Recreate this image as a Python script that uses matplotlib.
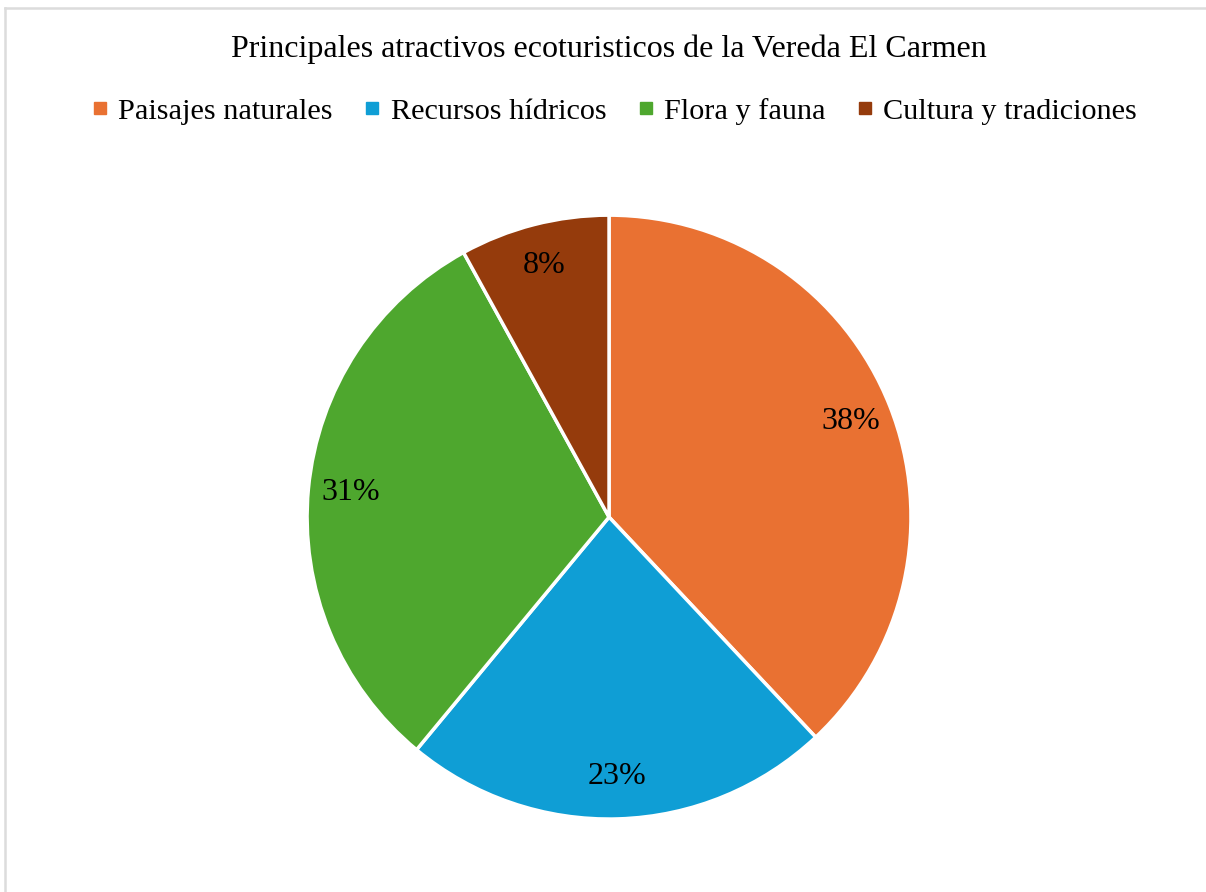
import matplotlib.pyplot as plt
from matplotlib.lines import Line2D

plt.rcParams['font.family'] = ['Liberation Serif', 'DejaVu Serif']

categories = ['Paisajes naturales', 'Recursos hídricos', 'Flora y fauna', 'Cultura y tradiciones']
values = [38, 23, 31, 8]
colors = ['#E97132', '#0F9ED5', '#4EA72E', '#953B0C']
title = 'Principales atractivos ecoturisticos de la Vereda El Carmen'

fig = plt.figure(figsize=(12.06, 8.92), dpi=100)

# light border on the left and top like the screenshot
fig.add_artist(Line2D([5/1206, 5/1206], [0, 1 - 8/892], transform=fig.transFigure, color='#dcdcdc', lw=1.8))
fig.add_artist(Line2D([5/1206, 1], [1 - 8/892, 1 - 8/892], transform=fig.transFigure, color='#dcdcdc', lw=1.8))

ax = fig.add_axes([0.2546, 0.0818, 0.5008, 0.677])
wedges, texts, autotexts = ax.pie(values, colors=colors, startangle=90, counterclock=False,
                                  autopct='%d%%', pctdistance=0.86,
                                  wedgeprops=dict(edgecolor='white', linewidth=2.5),
                                  textprops=dict(fontsize=23, color='black'))
ax.set_xlim(-1, 1)
ax.set_ylim(-1, 1)
ax.set_aspect('equal')

fig.text(0.505, 1 - 49/892, title, ha='center', va='center', fontsize=23)

handles = [Line2D([], [], marker='s', linestyle='none', markersize=8.5, color=c) for c in colors]
fig.legend(handles, categories, loc='center', bbox_to_anchor=(0.509, 1 - 111/892), ncol=4,
           frameon=False, fontsize=21.8, handlelength=0.6, handletextpad=0.3, columnspacing=1.0)

fig.savefig('out.png', dpi=100)
